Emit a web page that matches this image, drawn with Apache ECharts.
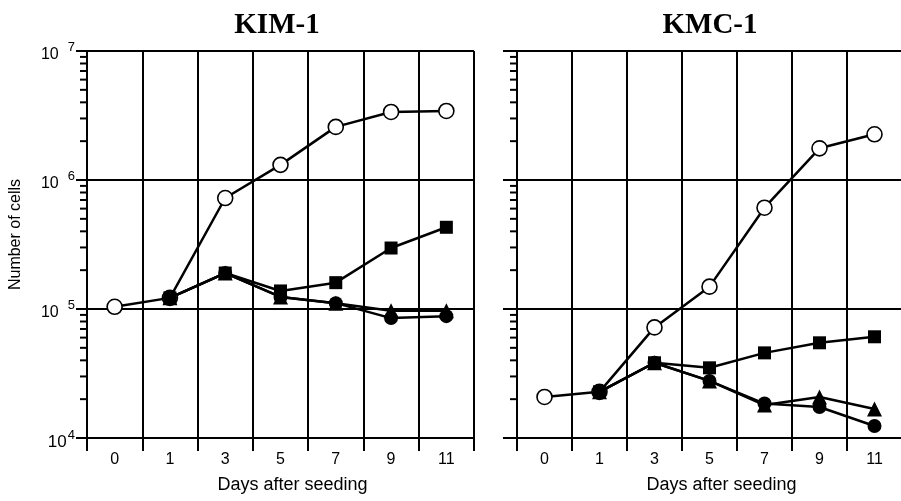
<!DOCTYPE html>
<html><head><meta charset="utf-8">
<script src="https://cdn.jsdelivr.net/npm/echarts@6/dist/echarts.min.js"></script>
<style>html,body{margin:0;padding:0;background:#fff}#c{width:901px;height:501px}</style>
</head><body><div id="c"></div>
<script>
const days = ['0','1','3','5','7','9','11'];
const titles = ['KIM-1','KMC-1'];
const yMajorTicks = [1e4, 1e5, 1e6, 1e7];
const yMinorTicks = [2e4,3e4,4e4,5e4,6e4,7e4,8e4,9e4,2e5,3e5,4e5,5e5,6e5,7e5,8e5,9e5,2e6,3e6,4e6,5e6,6e6,7e6,8e6,9e6];

// KIM-1
const kimOpen     = [1.04e5, 1.22e5, 7.25e5, 1.31e6, 2.58e6, 3.37e6, 3.43e6];
const kimSquare   = [null, 1.22e5, 1.9e5, 1.38e5, 1.6e5, 2.97e5, 4.3e5];
const kimTriangle = [null, 1.22e5, 1.9e5, 1.24e5, 1.11e5, 9.7e4, 9.7e4];
const kimCircle   = [null, 1.22e5, 1.9e5, 1.24e5, 1.11e5, 8.5e4, 8.8e4];
// KMC-1
const kmcOpen     = [2.08e4, 2.28e4, 7.2e4, 1.49e5, 6.1e5, 1.76e6, 2.26e6];
const kmcSquare   = [null, 2.28e4, 3.83e4, 3.5e4, 4.57e4, 5.47e4, 6.09e4];
const kmcTriangle = [null, 2.28e4, 3.83e4, 2.77e4, 1.8e4, 2.08e4, 1.68e4];
const kmcCircle   = [null, 2.28e4, 3.83e4, 2.77e4, 1.85e4, 1.74e4, 1.24e4];

const chart = echarts.init(document.getElementById('c'), null, {renderer:'canvas'});
const BLACK = '#000';
const sans = 'Liberation Sans';

function xAxis(gi){
  return {
    type:'category', gridIndex:gi, data:days, boundaryGap:true,
    name:'Days after seeding', nameLocation:'middle', nameGap:38,
    nameTextStyle:{fontSize:18, fontFamily:sans, color:BLACK, padding:[0,0,0,24]},
    axisLine:{show:true, lineStyle:{color:BLACK, width:2}},
    axisTick:{show:true, interval:0, length:13, alignWithLabel:false, lineStyle:{color:BLACK, width:2}},
    splitLine:{show:true, interval:0, lineStyle:{color:BLACK, width:2}},
    axisLabel:{show:true, interval:0, margin:14, fontSize:16, fontFamily:sans, color:BLACK}
  };
}
function yAxis(gi, showLabel, tickLen){
  const ax = {
    type:'log', logBase:10, gridIndex:gi, min:1e4, max:1e7,
    axisLine:{show:true, lineStyle:{color:BLACK, width:2}},
    axisTick:{show:true, length:tickLen, lineStyle:{color:BLACK, width:2}},
    splitLine:{show:true, lineStyle:{color:BLACK, width:2}},
    axisLabel:{
      show:showLabel, margin:12,
      formatter:function(v){
        const e = Math.round(Math.log10(v));
        return e === 4 ? '{c|10}{s|' + e + '}' : '{b|10}{s|' + e + '}';
      },
      rich:{
        b:{fontSize:16, fontFamily:sans, color:BLACK, padding:[8,9,0,0], verticalAlign:'bottom'},
        c:{fontSize:17, fontFamily:sans, color:BLACK, padding:[8,1,0,0], verticalAlign:'bottom'},
        s:{fontSize:13, fontFamily:sans, color:BLACK, padding:[0,0,9,0], verticalAlign:'bottom'}
      }
    }
  };
  if (showLabel){
    ax.name = 'Number of cells';
    ax.nameLocation = 'middle';
    ax.nameGap = 63;
    ax.nameTextStyle = {fontSize:16, fontFamily:sans, color:BLACK, padding:[0,0,0,20]};
  }
  return ax;
}
function minorSeries(gi, len){
  return {
    type:'custom', xAxisIndex:gi, yAxisIndex:gi, silent:true, clip:false, z:1,
    data: yMinorTicks.map(v => [0, v]),
    encode:{x:0, y:1},
    renderItem:function(params, api){
      const y = api.coord([0, api.value(1)])[1];
      const x = params.coordSys.x;
      return {type:'line', shape:{x1:x-len, y1:y, x2:x, y2:y}, style:{stroke:BLACK, lineWidth:2}};
    }
  };
}
function lineSeries(gi, data, kind){
  const s = {
    type:'line', xAxisIndex:gi, yAxisIndex:gi, data:data, z:3,
    lineStyle:{color:BLACK, width:2.5},
    itemStyle:{color:BLACK},
    emphasis:{disabled:true}, silent:true
  };
  if (kind === 'open'){ s.symbol='circle'; s.symbolSize=15; s.itemStyle={color:'#fff', borderColor:BLACK, borderWidth:1.6}; }
  if (kind === 'square'){ s.symbol='rect'; s.symbolSize=13; }
  if (kind === 'triangle'){ s.symbol='triangle'; s.symbolSize=15; }
  if (kind === 'circle'){ s.symbol='circle'; s.symbolSize=14; }
  s.showAllSymbol = true;
  return s;
}

const option = {
  animation:false,
  backgroundColor:'#fff',
  title:[
    {text:titles[0], left:272, top:6, textAlign:'center', textStyle:{fontFamily:'Liberation Serif', fontWeight:'bold', fontSize:29, color:BLACK}},
    {text:titles[1], left:705, top:6, textAlign:'center', textStyle:{fontFamily:'Liberation Serif', fontWeight:'bold', fontSize:29, color:BLACK}}
  ],
  grid:[
    {left:87, top:51, width:387, height:387, containLabel:false, outerBoundsMode:'none'},
    {left:517, top:51, width:385, height:387, containLabel:false, outerBoundsMode:'none'}
  ],
  xAxis:[xAxis(0), xAxis(1)],
  yAxis:[yAxis(0, true, 11), yAxis(1, false, 14)],
  series:[
    minorSeries(0, 7), minorSeries(1, 7),
    lineSeries(0, kimOpen, 'open'),
    lineSeries(0, kimSquare, 'square'),
    lineSeries(0, kimTriangle, 'triangle'),
    lineSeries(0, kimCircle, 'circle'),
    lineSeries(1, kmcOpen, 'open'),
    lineSeries(1, kmcSquare, 'square'),
    lineSeries(1, kmcTriangle, 'triangle'),
    lineSeries(1, kmcCircle, 'circle')
  ]
};
chart.setOption(option);
</script>
</body></html>
